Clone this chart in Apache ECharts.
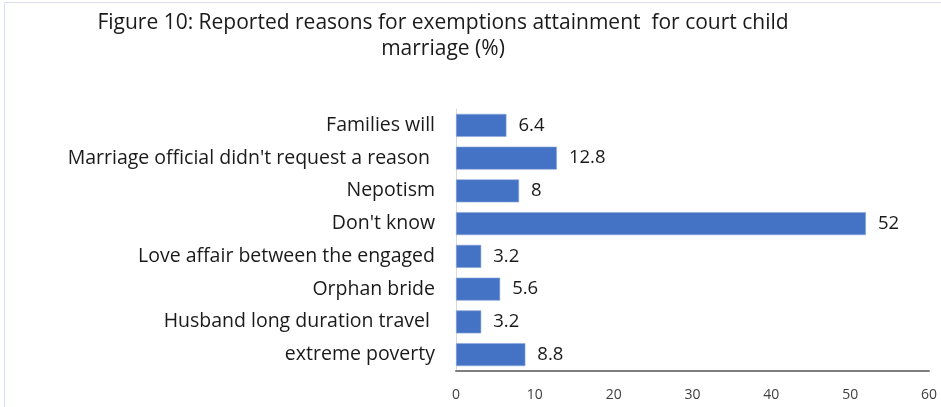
<!DOCTYPE html>
<html>
<head>
<meta charset="utf-8">
<script src="https://cdn.jsdelivr.net/npm/echarts@6/dist/echarts.min.js"></script>
<style>
  html, body { margin: 0; padding: 0; background: #fff; }
  #chart { width: 941px; height: 407px; }
</style>
</head>
<body>
<div id="chart"></div>
<script>
// reasons, top to bottom
const reasons = [
  'Families will',
  "Marriage official didn't request a reason ",
  'Nepotism',
  "Don't know",
  'Love affair between the engaged',
  'Orphan bride',
  'Husband long duration travel ',
  'extreme poverty'
];
const percents = [6.4, 12.8, 8, 52, 3.2, 5.6, 3.2, 8.8];
const xTicks = [0, 10, 20, 30, 40, 50, 60];

const FONT = '"Open Sans", "Noto Sans", sans-serif';

let chart = echarts.init(document.getElementById('chart'));
let option = {
  animation: false,
  title: {
    text: 'Figure 10: Reported reasons for exemptions attainment  for court child\nmarriage (%)',
    left: 438,
    top: 5,
    textAlign: 'center',
    textStyle: { fontFamily: FONT, fontSize: 21, fontWeight: 'normal', color: '#1a1a1a', lineHeight: 26 }
  },
  graphic: [{
    type: 'rect',
    shape: { x: 4.5, y: 2.5, width: 960, height: 420 },
    style: { fill: 'none', stroke: '#d6def0', lineWidth: 1 },
    silent: true
  }],
  grid: { left: 456, right: 12, top: 109, bottom: 36 },
  xAxis: {
    type: 'value',
    min: xTicks[0],
    max: xTicks[xTicks.length - 1],
    interval: 10,
    splitLine: { show: false },
    axisLine: { show: true, lineStyle: { color: '#7f7f7f', width: 2 } },
    axisTick: { show: false },
    axisLabel: { fontFamily: FONT, fontSize: 14, color: '#404040', margin: 17 }
  },
  yAxis: {
    type: 'category',
    data: reasons,
    inverse: true,
    axisLine: { show: true, lineStyle: { color: '#d9d9d9', width: 1 } },
    axisTick: { show: false },
    axisLabel: { fontFamily: FONT, fontSize: 19.5, color: '#1a1a1a', margin: 21 }
  },
  series: [{
    type: 'bar',
    data: percents,
    barWidth: 23,
    itemStyle: { color: '#4472c4', borderColor: '#8faadc', borderWidth: 0.6 },
    label: {
      show: true,
      position: 'right',
      distance: 12,
      fontFamily: FONT,
      fontSize: 18.5,
      color: '#1a1a1a'
    }
  }]
};
chart.setOption(option);
</script>
</body>
</html>
